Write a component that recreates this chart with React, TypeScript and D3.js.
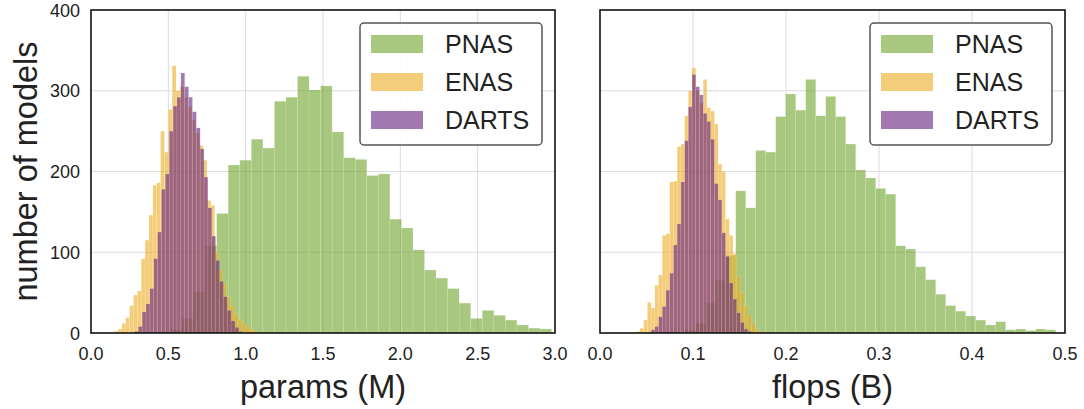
import React, { useEffect, useRef } from 'react'
import * as d3 from 'd3'

const methods = ['PNAS', 'ENAS', 'DARTS']
const yTicks = [0, 100, 200, 300, 400]

// params (M) histograms: first bin edge, bin width, counts per bin
const paramsTicks = [0, 0.5, 1.0, 1.5, 2.0, 2.5, 3.0]
const paramsPnasStart = 0.4393
const paramsPnasWidth = 0.07466
const paramsPnas = [1, 4, 18, 51, 108, 148, 208, 214, 240, 229, 287, 292, 318, 301, 306, 249, 217, 215, 195, 197,
  141, 130, 103, 78, 68, 55, 37, 18, 28, 22, 16, 10, 6, 5]
const paramsEnasStart = 0.15
const paramsEnasWidth = 0.025
const paramsEnas = [2, 5, 12, 19, 34, 47, 52, 92, 115, 146, 183, 186, 250, 224, 277, 331, 300, 305, 292, 280,
  264, 248, 232, 214, 164, 158, 100, 78, 62, 45, 33, 24, 17, 12, 8, 5, 3, 1]
const paramsDartsStart = 0.281
const paramsDartsWidth = 0.025
const paramsDarts = [2, 8, 26, 36, 55, 92, 125, 178, 197, 250, 281, 292, 322, 305, 292, 274, 254, 228, 193, 155,
  120, 90, 64, 45, 28, 15, 7, 2]

// flops (B) histograms
const flopsTicks = [0, 0.1, 0.2, 0.3, 0.4, 0.5]
const flopsPnasStart = 0.0922
const flopsPnasWidth = 0.01075
const flopsPnas = [3, 12, 37, 65, 96, 176, 155, 226, 224, 268, 296, 276, 314, 269, 293, 268, 234, 202, 192, 179,
  172, 108, 104, 82, 66, 48, 34, 27, 21, 16, 10, 14, 4, 5, 3, 5, 4]
const flopsEnasStart = 0.035
const flopsEnasWidth = 0.004
const flopsEnas = [1, 2, 6, 16, 38, 31, 59, 72, 121, 123, 187, 188, 231, 234, 269, 300, 328, 300, 285, 314,
  279, 275, 259, 209, 200, 141, 121, 98, 70, 50, 34, 22, 12, 5, 1]
const flopsDartsStart = 0.051
const flopsDartsWidth = 0.004
const flopsDarts = [1, 4, 8, 20, 33, 53, 74, 109, 135, 187, 238, 280, 320, 305, 295, 272, 262, 240, 185, 165,
  124, 95, 62, 42, 25, 13, 5, 2]

const colors = ['rgb(110,163,43)', 'rgb(237,172,33)', 'rgb(100,32,123)']
const barOpacity = 0.6
const font = '"Liberation Sans", Arial, sans-serif'

type Hist = { start: number; width: number; counts: number[] }

export default function App() {
  const ref = useRef<SVGSVGElement>(null)

  useEffect(() => {
    const svg = d3.select(ref.current)
    svg.selectAll('*').remove()

    const top = 10
    const bottom = 333
    const y = d3.scaleLinear().domain([0, 400]).range([bottom, top])

    const panels = [
      {
        left: 91, right: 555, domain: [0, 3], ticks: paramsTicks, label: 'params (M)', showY: true,
        hists: [
          { start: paramsPnasStart, width: paramsPnasWidth, counts: paramsPnas },
          { start: paramsEnasStart, width: paramsEnasWidth, counts: paramsEnas },
          { start: paramsDartsStart, width: paramsDartsWidth, counts: paramsDarts },
        ] as Hist[],
      },
      {
        left: 600, right: 1065, domain: [0, 0.5], ticks: flopsTicks, label: 'flops (B)', showY: false,
        hists: [
          { start: flopsPnasStart, width: flopsPnasWidth, counts: flopsPnas },
          { start: flopsEnasStart, width: flopsEnasWidth, counts: flopsEnas },
          { start: flopsDartsStart, width: flopsDartsWidth, counts: flopsDarts },
        ] as Hist[],
      },
    ]

    panels.forEach(p => {
      const x = d3.scaleLinear().domain(p.domain).range([p.left, p.right])
      const g = svg.append('g')

      // grid
      g.append('g')
        .selectAll('line')
        .data(p.ticks.slice(1, -1))
        .enter()
        .append('line')
        .attr('x1', d => x(d)).attr('x2', d => x(d))
        .attr('y1', top).attr('y2', bottom)
        .attr('stroke', '#dcdcdc').attr('stroke-width', 1)
      g.append('g')
        .selectAll('line')
        .data(yTicks.slice(1, -1))
        .enter()
        .append('line')
        .attr('x1', p.left).attr('x2', p.right)
        .attr('y1', d => y(d)).attr('y2', d => y(d))
        .attr('stroke', '#dcdcdc').attr('stroke-width', 1)

      // histogram bars, drawn in legend order
      p.hists.forEach((h, si) => {
        g.append('g')
          .selectAll('rect')
          .data(h.counts)
          .enter()
          .append('rect')
          .attr('x', (d, i) => x(h.start + i * h.width))
          .attr('width', (d, i) => x(h.start + (i + 1) * h.width) - x(h.start + i * h.width))
          .attr('y', d => y(d))
          .attr('height', d => y(0) - y(d))
          .attr('fill', colors[si])
          .attr('fill-opacity', barOpacity)
          .attr('stroke', '#fff')
          .attr('stroke-opacity', 0.25)
          .attr('stroke-width', 0.5)
      })

      // frame
      g.append('rect')
        .attr('x', p.left).attr('y', top)
        .attr('width', p.right - p.left).attr('height', bottom - top)
        .attr('fill', 'none').attr('stroke', '#111').attr('stroke-width', 1.6)

      // x tick labels
      g.append('g')
        .selectAll('text')
        .data(p.ticks)
        .enter()
        .append('text')
        .attr('x', d => x(d))
        .attr('y', 360)
        .attr('text-anchor', 'middle')
        .attr('font-family', font)
        .attr('font-size', 18)
        .attr('fill', '#222')
        .text(d => d3.format('.1f')(d))

      g.append('text')
        .attr('x', (p.left + p.right) / 2)
        .attr('y', 398)
        .attr('text-anchor', 'middle')
        .attr('font-family', font)
        .attr('font-size', 32.5)
        .attr('fill', '#222')
        .text(p.label)

      if (p.showY) {
        g.append('g')
          .selectAll('text')
          .data(yTicks)
          .enter()
          .append('text')
          .attr('x', 80)
          .attr('y', d => y(d) + 6.5)
          .attr('text-anchor', 'end')
          .attr('font-family', font)
          .attr('font-size', 18)
          .attr('fill', '#222')
          .text(d => d)

        g.append('text')
          .attr('transform', `translate(37, ${(top + bottom) / 2}) rotate(-90)`)
          .attr('text-anchor', 'middle')
          .attr('font-family', font)
          .attr('font-size', 32.5)
          .attr('fill', '#222')
          .text('number of models')
      }

      // legend
      const lx = p.right - 195
      const ly = 23
      const legend = g.append('g').attr('transform', `translate(${lx}, ${ly})`)
      legend.append('rect')
        .attr('x', 0).attr('y', 0)
        .attr('width', 182).attr('height', 122)
        .attr('rx', 4)
        .attr('fill', '#fff').attr('fill-opacity', 0.9)
        .attr('stroke', '#555').attr('stroke-width', 1.5)
      methods.forEach((m, i) => {
        legend.append('rect')
          .attr('x', 11).attr('y', 12 + i * 38)
          .attr('width', 52).attr('height', 18)
          .attr('fill', colors[i]).attr('fill-opacity', barOpacity)
        legend.append('text')
          .attr('x', 85).attr('y', 30 + i * 38)
          .attr('font-family', font)
          .attr('font-size', 25)
          .attr('fill', '#222')
          .text(m)
      })
    })
  }, [])

  return (
    <svg ref={ref} width={1084} height={409}
      style={{ position: 'absolute', left: 0, top: 0, background: '#fff' }} />
  )
}
